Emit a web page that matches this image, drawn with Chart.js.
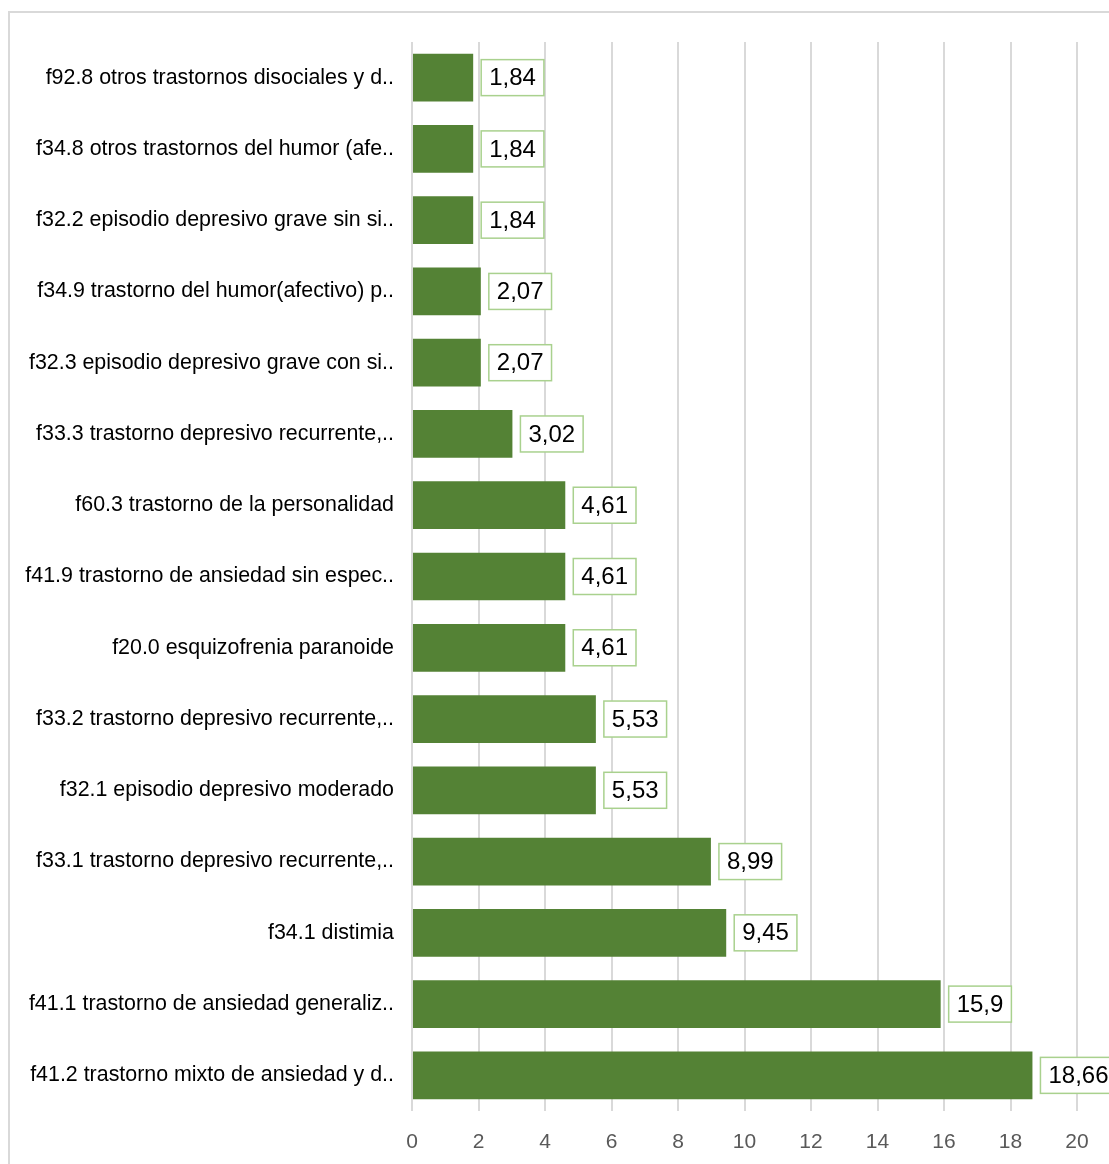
<!DOCTYPE html>
<html>
<head>
<meta charset="utf-8">
<script src="https://cdn.jsdelivr.net/npm/chart.js@4/dist/chart.umd.min.js"></script>
<style>
  html, body { margin: 0; padding: 0; background: #fff; }
  #wrap { width: 1109px; height: 1164px; position: relative; }
</style>
</head>
<body>
<div id="wrap"><canvas id="bar-chart" width="1109" height="1164"></canvas></div>
<script>
var categories = [
  'f92.8 otros trastornos disociales y d..',
  'f34.8 otros trastornos del humor (afe..',
  'f32.2 episodio depresivo grave sin si..',
  'f34.9 trastorno del humor(afectivo) p..',
  'f32.3 episodio depresivo grave con si..',
  'f33.3 trastorno depresivo recurrente,..',
  'f60.3 trastorno de la personalidad',
  'f41.9 trastorno de ansiedad sin espec..',
  'f20.0 esquizofrenia paranoide',
  'f33.2 trastorno depresivo recurrente,..',
  'f32.1 episodio depresivo moderado',
  'f33.1 trastorno depresivo recurrente,..',
  'f34.1 distimia',
  'f41.1 trastorno de ansiedad generaliz..',
  'f41.2 trastorno mixto de ansiedad y d..'
];
var values = [1.84, 1.84, 1.84, 2.07, 2.07, 3.02, 4.61, 4.61, 4.61, 5.53, 5.53, 8.99, 9.45, 15.9, 18.66];
var valueLabels = ['1,84', '1,84', '1,84', '2,07', '2,07', '3,02', '4,61', '4,61', '4,61', '5,53', '5,53', '8,99', '9,45', '15,9', '18,66'];
var xTicks = [0, 2, 4, 6, 8, 10, 12, 14, 16, 18, 20];

// frame round the chart
var framePlugin = {
  id: 'frame',
  beforeDraw: function(chart) {
    var ctx = chart.ctx;
    ctx.save();
    ctx.strokeStyle = '#d9d9d9';
    ctx.lineWidth = 2;
    ctx.beginPath();
    ctx.moveTo(9, chart.height + 2);
    ctx.lineTo(9, 12);
    ctx.lineTo(chart.width + 2, 12);
    ctx.stroke();
    ctx.restore();
  }
};

// boxed value labels at the bar ends
var labelPlugin = {
  id: 'boxLabels',
  afterDatasetsDraw: function(chart) {
    var ctx = chart.ctx;
    var meta = chart.getDatasetMeta(0);
    ctx.save();
    ctx.font = '24px "Liberation Sans", Arial, sans-serif';
    ctx.textBaseline = 'middle';
    ctx.textAlign = 'left';
    meta.data.forEach(function(bar, i) {
      var txt = valueLabels[i];
      var w = ctx.measureText(txt).width + 16;
      var h = 36;
      var x = bar.x + 8;
      var y = bar.y - h / 2;
      ctx.fillStyle = '#ffffff';
      ctx.fillRect(x, y, w, h);
      ctx.strokeStyle = '#a9d18e';
      ctx.lineWidth = 1.5;
      ctx.strokeRect(x, y, w, h);
      ctx.fillStyle = '#000000';
      ctx.fillText(txt, x + 8, bar.y + 1);
    });
    ctx.restore();
  }
};

new Chart(document.getElementById('bar-chart'), {
  type: 'bar',
  data: {
    labels: categories,
    datasets: [{
      data: values,
      backgroundColor: '#548235',
      borderWidth: 0,
      categoryPercentage: 1,
      barPercentage: 0.67
    }]
  },
  options: {
    indexAxis: 'y',
    responsive: false,
    animation: false,
    layout: {
      padding: { top: 42, right: 32, bottom: 0, left: 0 }
    },
    plugins: {
      legend: { display: false },
      tooltip: { enabled: false }
    },
    scales: {
      x: {
        min: 0,
        max: 20,
        afterBuildTicks: function(scale) {
          scale.ticks = xTicks.map(function(v) { return { value: v }; });
        },
        afterFit: function(scale) { scale.height = 53; },
        grid: { color: '#d9d9d9', lineWidth: 2, drawTicks: false },
        border: { display: false },
        ticks: {
          color: '#595959',
          font: { family: '"Liberation Sans", Arial, sans-serif', size: 21 },
          padding: 19,
          maxRotation: 0
        }
      },
      y: {
        afterFit: function(scale) { scale.width = 412; },
        grid: { display: false, drawTicks: false },
        border: { display: false },
        ticks: {
          color: '#000000',
          font: { family: '"Liberation Sans", Arial, sans-serif', size: 21.4 },
          padding: 18,
          autoSkip: false
        }
      }
    }
  },
  plugins: [framePlugin, labelPlugin]
});
</script>
</body>
</html>
